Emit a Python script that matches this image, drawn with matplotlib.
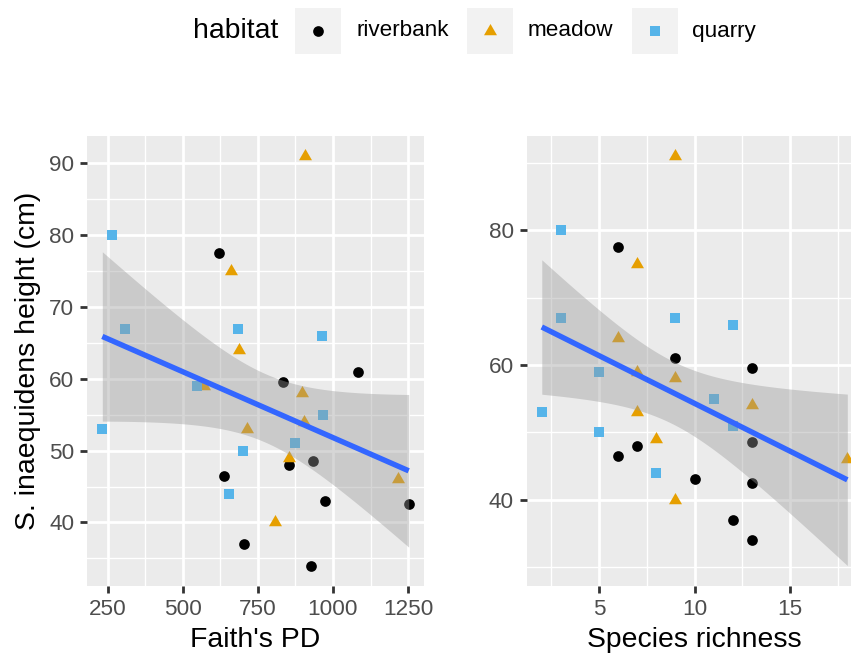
import numpy as np
import matplotlib.pyplot as plt

plt.rcParams['font.family'] = ['Liberation Sans', 'DejaVu Sans']

habitats = ['riverbank', 'meadow', 'quarry']
habitat_colors = ['#000000', '#E69F00', '#56B4E9']

habitat = ['riverbank'] * 10 + ['meadow'] * 10 + ['quarry'] * 10
faith_pd = [622, 1083, 833, 853, 935, 637, 974, 1252, 705, 928,
            908, 661, 686, 569, 896, 905, 714, 855, 1216, 806,
            265, 306, 683, 964, 547, 968, 232, 874, 702, 653]
richness = [6, 9, 13, 7, 13, 6, 10, 13, 12, 13,
            9, 7, 6, 7, 9, 13, 7, 8, 18, 9,
            3, 3, 9, 12, 5, 11, 2, 12, 5, 8]
height = [77.5, 61, 59.5, 48, 48.5, 46.5, 43, 42.5, 37, 34,
          91, 75, 64, 59, 58, 54, 53, 49, 46, 40,
          80, 67, 67, 66, 59, 55, 53, 51, 50, 44]

left_xticks = [250, 500, 750, 1000, 1250]
left_yticks = [40, 50, 60, 70, 80, 90]
right_xticks = [5, 10, 15]
right_yticks = [40, 60, 80]

# equilateral triangle like R's pch 17, centred on its centroid
tri = [(-1, -0.577), (1, -0.577), (0, 1.155)]
markers = {'riverbank': ('o', 7.7), 'meadow': (tri, 10.8), 'quarry': ('s', 7.6)}
colors = dict(zip(habitats, habitat_colors))

W, H = 851, 654
fig = plt.figure(figsize=(W / 100, H / 100), dpi=100)


def lm_band(x, y, n=80, t=2.0484):
    x = np.asarray(x, float)
    y = np.asarray(y, float)
    b, a = np.polyfit(x, y, 1)
    resid = y - (a + b * x)
    s = np.sqrt(np.sum(resid ** 2) / (len(x) - 2))
    sxx = np.sum((x - x.mean()) ** 2)
    xs = np.linspace(x.min(), x.max(), n)
    fit = a + b * xs
    se = s * np.sqrt(1 / len(x) + (xs - x.mean()) ** 2 / sxx)
    return xs, fit, fit - t * se, fit + t * se


def minor_breaks(major, lo, hi):
    step = major[1] - major[0]
    cand = np.arange(major[0] - step / 2, hi + step, step)
    return [v for v in cand if lo <= v <= hi]


def panel(rect, x, xticks, yticks, xlabel):
    ax = fig.add_axes(rect)
    ax.set_facecolor('#EBEBEB')
    for sp in ax.spines.values():
        sp.set_visible(False)
    xarr = np.asarray(x, float)
    for h in habitats:
        idx = [i for i, v in enumerate(habitat) if v == h]
        m, ms = markers[h]
        ax.plot(xarr[idx], np.asarray(height)[idx], linestyle='none', marker=m,
                markersize=ms, color=colors[h], markeredgewidth=0, zorder=2)
    xs, fit, lo, hi = lm_band(x, height)
    ax.fill_between(xs, lo, hi, color='#999999', alpha=0.4, linewidth=0, zorder=3)
    ax.plot(xs, fit, color='#3366FF', linewidth=3.9, zorder=4, solid_capstyle='butt')
    # ggplot-like 5% expansion
    x0, x1 = xarr.min(), xarr.max()
    y0 = min(min(height), lo.min())
    y1 = max(max(height), hi.max())
    xlim = (x0 - 0.05 * (x1 - x0), x1 + 0.05 * (x1 - x0))
    ylim = (y0 - 0.05 * (y1 - y0), y1 + 0.05 * (y1 - y0))
    ax.set_xticks(xticks)
    ax.set_yticks(yticks)
    ax.set_xticks(minor_breaks(xticks, *xlim), minor=True)
    ax.set_yticks(minor_breaks(yticks, *ylim), minor=True)
    ax.set_xlim(*xlim)
    ax.set_ylim(*ylim)
    ax.grid(which='major', color='white', linewidth=2.0)
    ax.grid(which='minor', color='white', linewidth=1.0)
    ax.set_axisbelow(True)
    ax.tick_params(which='major', length=5.1, width=2.0, color='#333333',
                   labelsize=16.2, labelcolor='#4D4D4D', pad=4.1)
    ax.tick_params(which='minor', length=0)
    ax.set_xlabel(xlabel, fontsize=20.4, color='black', labelpad=5)
    return ax


bottom = (H - 586) / H
height_f = (586 - 135.7) / H
ax1 = panel([87 / W, bottom, 337 / W, height_f], faith_pd, left_xticks, left_yticks, "Faith's PD")
ax1.set_ylabel('S. inaequidens height (cm)', fontsize=20.4, color='black', labelpad=6)
ax2 = panel([526.5 / W, bottom, 336.1 / W, height_f], richness, right_xticks, right_yticks,
            'Species richness')

# legend on top, laid out in pixel space
lax = fig.add_axes([0, 0, 1, 1], zorder=-1)
lax.set_xlim(0, W)
lax.set_ylim(H, 0)
lax.axis('off')
lax.text(192.7, 31, 'habitat', fontsize=20.4, va='center', ha='left')
key_left = [295, 467, 632]
text_left = [356.6, 528, 692]
for h, kl, tl in zip(habitats, key_left, text_left):
    lax.add_patch(plt.Rectangle((kl, 8), 46, 46, facecolor='#F2F2F2', edgecolor='none'))
    m, ms = markers[h]
    lax.plot([kl + 23], [31], linestyle='none', marker=m, markersize=ms,
             color=colors[h], markeredgewidth=0)
    lax.text(tl, 31, h, fontsize=16.2, va='center', ha='left', color='black')

fig.savefig('out.png', dpi=100)
